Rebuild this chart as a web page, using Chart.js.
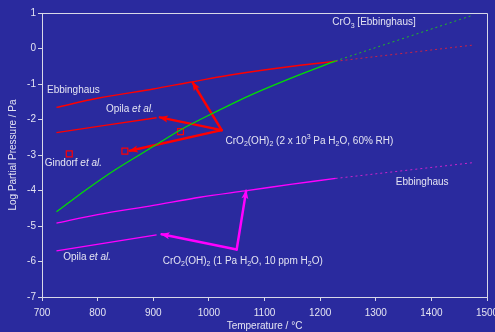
<!DOCTYPE html>
<html><head><meta charset="utf-8">
<script src="https://cdn.jsdelivr.net/npm/chart.js@4.4.1/dist/chart.umd.min.js"></script>
<style>html,body{margin:0;padding:0;background:#2a2a9e;overflow:hidden}canvas{display:block}</style>
</head><body>
<canvas id="c" width="495" height="332"></canvas>
<script>
// ---- axis ticks ----
const xTickValues = [700, 800, 900, 1000, 1100, 1200, 1300, 1400, 1500];
const yTickValues = [1, 0, -1, -2, -3, -4, -5, -6, -7];

// ---- CrO3 [Ebbinghaus] (green) ----
const cro3T = [726, 780, 831, 900, 948, 1000, 1074, 1150, 1228];
const cro3P = [-4.60, -3.97, -3.42, -2.76, -2.30, -1.88, -1.32, -0.82, -0.35];
const cro3ExtT = [1228, 1475];
const cro3ExtP = [-0.35, 0.94];

// ---- CrO2(OH)2 wet: Ebbinghaus (red) ----
const wetEbbT = [726, 800, 900, 966, 1050, 1140, 1228];
const wetEbbP = [-1.66, -1.40, -1.14, -0.95, -0.72, -0.52, -0.36];
const wetEbbExtT = [1228, 1477];
const wetEbbExtP = [-0.36, 0.10];

// ---- wet: Opila et al. ----
const wetOpilaT = [726, 906];
const wetOpilaP = [-2.37, -1.95];

// ---- wet: measured points (Gindorf et al. etc.) ----
const wetPointsT = [749, 849, 949];
const wetPointsP = [-2.97, -2.89, -2.34];

// ---- CrO2(OH)2 dry: Ebbinghaus (magenta) ----
const dryEbbT = [726, 800, 900, 984, 1065, 1150, 1228];
const dryEbbP = [-4.92, -4.68, -4.42, -4.19, -4.01, -3.82, -3.66];
const dryEbbExtT = [1228, 1478];
const dryEbbExtP = [-3.66, -3.21];

// ---- dry: Opila et al. ----
const dryOpilaT = [726, 906];
const dryOpilaP = [-5.70, -5.25];

// ---- label arrows (origin at label, tips at curves) ----
const wetArrowOriginT = 1023, wetArrowOriginP = -2.30;
const wetArrowTipT = [971, 912, 858];
const wetArrowTipP = [-0.96, -1.94, -2.88];
const dryArrowOriginT = 1050, dryArrowOriginP = -5.66;
const dryArrowTipT = [1067, 915];
const dryArrowTipP = [-4.01, -5.23];

const pts = (T, P) => T.map((t, i) => ({x: t, y: P[i]}));

const RED = '#ff0000', GREEN = '#00e000', MAG = '#ff00ff';
const TXT = '#e4e4f2', AX = '#d8d8e8';
const FONT = "Arial, 'Liberation Sans', sans-serif";

function line(data, color, width, dash) {
  return {data, borderColor: color, backgroundColor: color, borderWidth: width,
    borderDash: dash || [], showLine: true, pointRadius: 0, pointHoverRadius: 0, tension: 0.3, fill: false};
}
function arrow(oT, oP, tT, tP, color) {
  return {data: [{x: oT, y: oP}, {x: tT, y: tP}], borderColor: color, backgroundColor: color,
    borderWidth: 2.5, showLine: true, pointRadius: 0, pointHoverRadius: 0, arrowHead: true, fill: false, borderCapStyle: 'round'};
}

const datasets = [
  line(pts(cro3T, cro3P), GREEN, 1.2),
  line(pts(cro3ExtT, cro3ExtP), '#22bb22', 1, [2, 3]),
  line(pts(wetEbbT, wetEbbP), RED, 1.4),
  line(pts(wetEbbExtT, wetEbbExtP), '#cc2244', 1, [2, 3]),
  line(pts(wetOpilaT, wetOpilaP), RED, 1.4),
  line(pts(dryEbbT, dryEbbP), MAG, 1.4),
  line(pts(dryEbbExtT, dryEbbExtP), '#cc22cc', 1, [2, 3]),
  line(pts(dryOpilaT, dryOpilaP), MAG, 1.4),
  {data: pts(wetPointsT, wetPointsP), showLine: false, pointStyle: 'rect', pointRadius: 4.2,
   pointBorderColor: RED, pointBackgroundColor: 'rgba(0,0,0,0)', pointBorderWidth: 1.2, borderColor: RED},
];
wetArrowTipT.forEach((t, i) => datasets.push(arrow(wetArrowOriginT, wetArrowOriginP, t, wetArrowTipP[i], RED)));
dryArrowTipT.forEach((t, i) => datasets.push(arrow(dryArrowOriginT, dryArrowOriginP, t, dryArrowTipP[i], MAG)));

// text labels: anchor (left, middle) in data coordinates
const labels = [
  {x: 1222, y: 0.73, runs: [['CrO'], ['3', 'sub'], [' [Ebbinghaus]']]},
  {x: 709, y: -1.19, runs: [['Ebbinghaus']]},
  {x: 815, y: -1.70, runs: [['Opila '], ['et al.', 'i']]},
  {x: 705, y: -3.23, runs: [['Gindorf '], ['et al.', 'i']]},
  {x: 1030, y: -2.60, runs: [['CrO'], ['2', 'sub'], ['(OH)'], ['2', 'sub'], [' (2 x 10'], ['3', 'sup'], [' Pa H'], ['2', 'sub'], ['O, 60% RH)']]},
  {x: 1336, y: -3.77, runs: [['Ebbinghaus']]},
  {x: 738, y: -5.89, runs: [['Opila '], ['et al.', 'i']]},
  {x: 917, y: -5.99, runs: [['CrO'], ['2', 'sub'], ['(OH)'], ['2', 'sub'], [' (1 Pa H'], ['2', 'sub'], ['O, 10 ppm H'], ['2', 'sub'], ['O)']]},
];

const bgPlugin = {
  id: 'bg',
  beforeDraw(chart) {
    const c = chart.ctx; c.save(); c.fillStyle = '#2a2a9e';
    c.fillRect(0, 0, chart.width, chart.height); c.restore();
  },
  afterDraw(chart) {
    const a = chart.chartArea, c = chart.ctx;
    c.save(); c.strokeStyle = AX; c.lineWidth = 1;
    c.beginPath();
    c.moveTo(a.left, a.top + 0.5); c.lineTo(a.right + 0.5, a.top + 0.5); c.lineTo(a.right + 0.5, a.bottom);
    c.stroke(); c.restore();
  }
};

const arrowPlugin = {
  id: 'arrows',
  afterDatasetsDraw(chart) {
    const c = chart.ctx;
    chart.data.datasets.forEach((ds, i) => {
      if (!ds.arrowHead) return;
      const m = chart.getDatasetMeta(i).data;
      const p0 = m[0], p1 = m[m.length - 1];
      const ang = Math.atan2(p1.y - p0.y, p1.x - p0.x);
      const L = 8, W = 3.5;
      c.save(); c.fillStyle = ds.borderColor;
      c.translate(p1.x, p1.y); c.rotate(ang);
      c.beginPath(); c.moveTo(1, 0); c.lineTo(-L, -W); c.lineTo(-L + 2, 0); c.lineTo(-L, W); c.closePath(); c.fill();
      c.restore();
    });
  }
};

const textPlugin = {
  id: 'labels',
  afterDraw(chart) {
    const c = chart.ctx, xs = chart.scales.x, ys = chart.scales.y;
    c.save(); c.fillStyle = TXT; c.textBaseline = 'middle'; c.textAlign = 'left';
    labels.forEach(l => {
      let x = xs.getPixelForValue(l.x); const y = ys.getPixelForValue(l.y);
      l.runs.forEach(([t, k]) => {
        let size = 10, dy = 0, style = '';
        if (k === 'sub') { size = 7; dy = 3; }
        if (k === 'sup') { size = 7; dy = -4; }
        if (k === 'i') style = 'italic ';
        c.font = style + size + 'px ' + FONT;
        c.fillText(t, x, y + dy);
        x += c.measureText(t).width;
      });
    });
    c.restore();
  }
};

new Chart(document.getElementById('c'), {
  type: 'scatter',
  data: {datasets},
  plugins: [bgPlugin, arrowPlugin, textPlugin],
  options: {
    responsive: false, animation: false, devicePixelRatio: 1,
    layout: {padding: {left: 0, top: 13, right: 8, bottom: 0}},
    plugins: {legend: {display: false}, tooltip: {enabled: false}},
    scales: {
      x: {
        type: 'linear', min: 700, max: 1500,
        afterBuildTicks(s) { s.ticks = xTickValues.map(v => ({value: v})); },
        afterFit(s) { s.height = 35; s.paddingLeft = 0; s.paddingRight = 0; },
        ticks: {color: TXT, font: {family: FONT, size: 10}, padding: 6, maxRotation: 0, autoSkip: false,
                callback: v => String(v)},
        grid: {drawOnChartArea: false, drawTicks: true, tickLength: 4, color: AX},
        border: {display: true, color: AX, width: 1},
        title: {display: true, text: 'Temperature / °C', color: TXT, font: {family: FONT, size: 10}, padding: {top: 0, bottom: 0}}
      },
      y: {
        type: 'linear', min: -7, max: 1,
        afterBuildTicks(s) { s.ticks = yTickValues.map(v => ({value: v})); },
        afterFit(s) { s.width = 42; s.paddingTop = 0; s.paddingBottom = 0; },
        ticks: {color: TXT, font: {family: FONT, size: 10}, padding: 2, autoSkip: false,
                callback: v => String(v)},
        grid: {drawOnChartArea: false, drawTicks: true, tickLength: 4, color: AX},
        border: {display: true, color: AX, width: 1},
        title: {display: true, text: 'Log Partial Pressure / Pa', color: TXT, font: {family: FONT, size: 10}, padding: {top: 7, bottom: 0}}
      }
    }
  }
});
</script>
</body></html>
